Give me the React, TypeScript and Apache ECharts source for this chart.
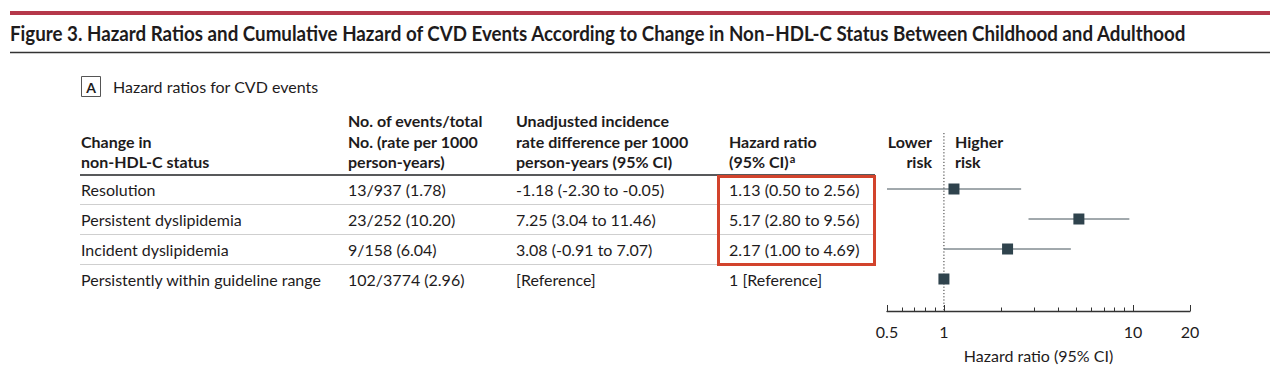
import React, { useEffect, useRef } from "react";
import * as echarts from "echarts";

const titleText =
  "Figure 3. Hazard Ratios and Cumulative Hazard of CVD Events According to Change in Non–HDL-C Status Between Childhood and Adulthood";
const panelLabel = "A";
const panelTitle = "Hazard ratios for CVD events";

const headerCol0 = ["", "Change in", "non-HDL-C status"];
const headerCol1 = ["No. of events/total", "No. (rate per 1000", "person-years)"];
const headerCol2 = ["Unadjusted incidence", "rate difference per 1000", "person-years (95% CI)"];
const headerCol3 = ["", "Hazard ratio", "(95% CI){sup|a}"];

const categories = [
  "Resolution",
  "Persistent dyslipidemia",
  "Incident dyslipidemia",
  "Persistently within guideline range",
];
const eventsText = ["13/937 (1.78)", "23/252 (10.20)", "9/158 (6.04)", "102/3774 (2.96)"];
const rateDiffText = [
  "-1.18 (-2.30 to -0.05)",
  "7.25 (3.04 to 11.46)",
  "3.08 (-0.91 to 7.07)",
  "[Reference]",
];
const hrText = ["1.13 (0.50 to 2.56)", "5.17 (2.80 to 9.56)", "2.17 (1.00 to 4.69)", "1 [Reference]"];

const hazardRatio = [1.13, 5.17, 2.17, 1];
const ciLow: (number | null)[] = [0.5, 2.8, 1.0, null];
const ciHigh: (number | null)[] = [2.56, 9.56, 4.69, null];

const majorTicks = [0.5, 1, 10, 20];
const minorTicks = [0.6, 0.7, 0.8, 0.9, 2, 3, 4, 5, 6, 7, 8, 9];
const axisMin = 0.5;
const axisMax = 20;
const referenceHR = 1;
const axisTitle = "Hazard ratio (95% CI)";
const lowerRisk = ["Lower", "risk"];
const higherRisk = ["Higher", "risk"];

const FONT = "Lato, 'Noto Sans', sans-serif";
const TXT = "#1e1b1c";
const BODY = 16;

export default function App() {
  const ref = useRef<HTMLDivElement>(null);

  useEffect(() => {
    if (!ref.current) return;
    const chart = echarts.init(ref.current, undefined, { renderer: "svg" });
    const lg = (v: number) => Math.log10(v);

    const titleSize = 21;
    let titleScale = 0.9;
    try {
      const ctx = document.createElement("canvas").getContext("2d");
      if (ctx) {
        ctx.font = `bold ${titleSize}px ${FONT}`;
        const w = ctx.measureText(titleText).width;
        if (w > 0) titleScale = 1178 / w;
      }
    } catch (e) {}

    const rowY0 = 189;
    const rowStep = 30;
    const rowY = (i: number) => rowY0 + i * rowStep;
    const headerY = [120, 141, 161];
    const colX = [81, 348, 516, 729];

    const text = (
      x: number,
      y: number,
      t: string,
      opts: { size?: number; weight?: any; align?: string; fill?: string; rich?: any; scaleX?: number } = {}
    ) => ({
      type: "text",
      x,
      y,
      scaleX: opts.scaleX ?? 1,
      silent: true,
      style: {
        text: t,
        fontSize: opts.size ?? BODY,
        fontFamily: FONT,
        fontWeight: opts.weight ?? "normal",
        fill: opts.fill ?? TXT,
        align: opts.align ?? "left",
        verticalAlign: "middle",
        textAlign: opts.align ?? "left",
        textVerticalAlign: "middle",
        rich: opts.rich,
      },
    });

    const graphics: any[] = [];
    graphics.push({ type: "rect", shape: { x: 10, y: 11, width: 1260, height: 4 }, style: { fill: "#b5384a" }, silent: true });
    graphics.push(text(10, 33, titleText, { size: titleSize, weight: "bold", scaleX: titleScale }));
    graphics.push({ type: "line", shape: { x1: 10, y1: 52.5, x2: 1270, y2: 52.5 }, style: { stroke: "#333", lineWidth: 1.5 }, silent: true });

    graphics.push({ type: "rect", shape: { x: 81.5, y: 76.5, width: 19, height: 20 }, style: { fill: "#fff", stroke: "#555", lineWidth: 1 }, silent: true });
    graphics.push(text(91, 87, panelLabel, { size: 14, weight: "bold", align: "center" }));
    graphics.push(text(113, 86, panelTitle));

    const headers = [headerCol0, headerCol1, headerCol2, headerCol3];
    headers.forEach((col, ci) => {
      col.forEach((line, li) => {
        if (!line) return;
        graphics.push(
          text(colX[ci], headerY[li], line, {
            weight: "bold",
            rich: { sup: { fontSize: 11, fontFamily: FONT, fontWeight: "bold", fill: TXT, verticalAlign: "top", padding: [0, 0, 6, 1] } },
          })
        );
      });
    });
    lowerRisk.forEach((l, i) => graphics.push(text(932, headerY[i + 1], l, { weight: "bold", align: "right" })));
    higherRisk.forEach((l, i) => graphics.push(text(955, headerY[i + 1], l, { weight: "bold" })));

    graphics.push({ type: "line", shape: { x1: 80, y1: 175, x2: 875, y2: 175 }, style: { stroke: "#58595b", lineWidth: 2 }, silent: true });
    for (let i = 0; i < categories.length - 1; i++) {
      const y = rowY(i) + 15.5;
      graphics.push({ type: "line", shape: { x1: 80, y1: y, x2: 875, y2: y }, style: { stroke: "#cfcfcf", lineWidth: 1 }, silent: true });
    }
    categories.forEach((c, i) => {
      const y = rowY(i);
      graphics.push(text(colX[0], y, c));
      graphics.push(text(colX[1], y, eventsText[i]));
      graphics.push(text(colX[2], y, rateDiffText[i]));
      graphics.push(text(colX[3], y, hrText[i]));
    });
    graphics.push({
      type: "rect",
      shape: { x: 718.5, y: 176.5, width: 156, height: 88 },
      style: { fill: "none", stroke: "#d2432c", lineWidth: 3 },
      silent: true,
      z: 10,
    });

    const ciData = categories
      .map((_, i) => (ciLow[i] != null && ciHigh[i] != null ? [lg(ciLow[i] as number), lg(ciHigh[i] as number), i] : null))
      .filter((d) => d !== null);

    const yMin = -56 / 30;
    const yMax = 3 + 32 / 30;

    const option: any = {
      animation: false,
      backgroundColor: "#fff",
      grid: { left: 887, width: 303, top: 133, height: 178, containLabel: false },
      xAxis: [
        {
          type: "value",
          min: lg(axisMin),
          max: lg(axisMax),
          position: "bottom",
          axisLine: { show: true, onZero: false, lineStyle: { color: "#333", width: 1.3 } },
          axisTick: {
            show: true,
            inside: true,
            length: 6,
            lineStyle: { color: "#333", width: 1 },
            customValues: majorTicks.map(lg),
          },
          axisLabel: {
            show: true,
            customValues: majorTicks.map(lg),
            formatter: (v: number) => String(Math.round(Math.pow(10, v) * 100) / 100),
            fontSize: BODY,
            fontFamily: FONT,
            color: TXT,
            margin: 12,
          },
          splitLine: { show: false },
          name: axisTitle,
          nameLocation: "middle",
          nameGap: 36,
          nameTextStyle: { fontSize: BODY, fontFamily: FONT, color: TXT },
        },
        {
          type: "value",
          min: lg(axisMin),
          max: lg(axisMax),
          position: "bottom",
          axisLine: { show: false, onZero: false },
          axisTick: {
            show: true,
            inside: true,
            length: 3.5,
            lineStyle: { color: "#333", width: 1 },
            customValues: minorTicks.map(lg),
          },
          axisLabel: { show: false },
          splitLine: { show: false },
        },
      ],
      yAxis: {
        type: "value",
        inverse: true,
        min: yMin,
        max: yMax,
        show: false,
        splitLine: { show: false },
      },
      series: [
        {
          type: "line",
          xAxisIndex: 0,
          data: [
            [lg(referenceHR), yMin],
            [lg(referenceHR), yMax],
          ],
          symbol: "none",
          silent: true,
          lineStyle: { type: [1.2, 2], color: "#333", width: 1 },
          z: 1,
        },
        {
          type: "custom",
          xAxisIndex: 0,
          encode: { x: [0, 1], y: 2 },
          data: ciData,
          renderItem: (params: any, api: any) => {
            const p1 = api.coord([api.value(0), api.value(2)]);
            const p2 = api.coord([api.value(1), api.value(2)]);
            return {
              type: "line",
              shape: { x1: p1[0], y1: p1[1], x2: p2[0], y2: p2[1] },
              style: { stroke: "#45535a", lineWidth: 1 },
            };
          },
          z: 2,
        },
        {
          type: "scatter",
          xAxisIndex: 0,
          data: hazardRatio.map((h, i) => [lg(h), i]),
          symbol: "rect",
          symbolSize: 11,
          itemStyle: { color: "#2f434d", opacity: 1 },
          z: 4,
        },
      ],
      graphic: graphics,
    };
    chart.setOption(option);
    return () => chart.dispose();
  }, []);

  return (
    <div
      ref={ref}
      style={{ position: "fixed", left: 0, top: 0, width: 1280, height: 372, background: "#fff" }}
    />
  );
}
